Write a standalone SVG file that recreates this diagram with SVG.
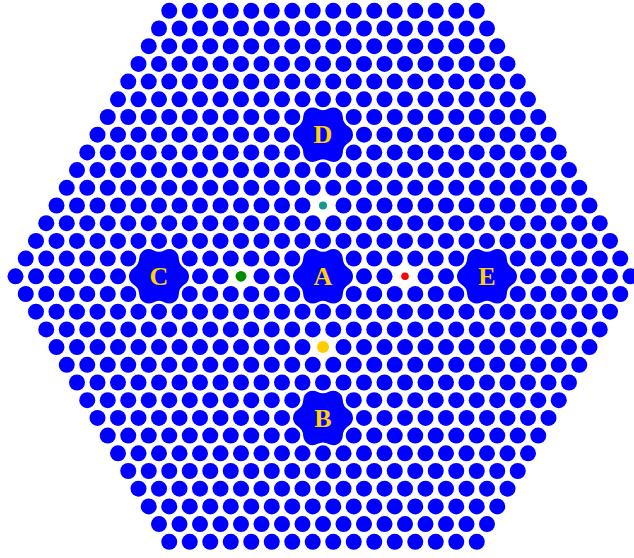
<svg xmlns="http://www.w3.org/2000/svg" xmlns:xlink="http://www.w3.org/1999/xlink" width="634" height="558" viewBox="0 0 634 558">
<style>
.c{fill:#0000ff}
.blob{fill:#0000ff;stroke:#ffffff;stroke-width:3;paint-order:stroke}
.lbl{font-family:"Liberation Serif","Times New Roman",serif;font-weight:bold;font-size:26px;fill:#ffd200;text-anchor:middle}
.hole{fill:#ffffff}
</style>
<defs>
<g id="r16">
<circle class="c" cx="0" cy="0" r="8"/><circle class="c" cx="20.5" cy="0" r="8"/><circle class="c" cx="41" cy="0" r="8"/><circle class="c" cx="61.5" cy="0" r="8"/>
<circle class="c" cx="82" cy="0" r="8"/><circle class="c" cx="102.5" cy="0" r="8"/><circle class="c" cx="123" cy="0" r="8"/><circle class="c" cx="143.5" cy="0" r="8"/>
<circle class="c" cx="164" cy="0" r="8"/><circle class="c" cx="184.5" cy="0" r="8"/><circle class="c" cx="205" cy="0" r="8"/><circle class="c" cx="225.5" cy="0" r="8"/>
<circle class="c" cx="246" cy="0" r="8"/><circle class="c" cx="266.5" cy="0" r="8"/><circle class="c" cx="287" cy="0" r="8"/><circle class="c" cx="307.5" cy="0" r="8"/>
</g>
<g id="r17"><use href="#r16"/><circle class="c" cx="328" cy="0" r="8"/></g>
<g id="r18"><use href="#r17"/><circle class="c" cx="348.5" cy="0" r="8"/></g>
<g id="r19"><use href="#r18"/><circle class="c" cx="369" cy="0" r="8"/></g>
<g id="r20"><use href="#r19"/><circle class="c" cx="389.5" cy="0" r="8"/></g>
<g id="r21"><use href="#r20"/><circle class="c" cx="410" cy="0" r="8"/></g>
<g id="r22"><use href="#r21"/><circle class="c" cx="430.5" cy="0" r="8"/></g>
<g id="r23"><use href="#r22"/><circle class="c" cx="451" cy="0" r="8"/></g>
<g id="r24"><use href="#r23"/><circle class="c" cx="471.5" cy="0" r="8"/></g>
<g id="r25"><use href="#r24"/><circle class="c" cx="492" cy="0" r="8"/></g>
<g id="r26"><use href="#r25"/><circle class="c" cx="512.5" cy="0" r="8"/></g>
<g id="r27"><use href="#r26"/><circle class="c" cx="533" cy="0" r="8"/></g>
<g id="r28"><use href="#r27"/><circle class="c" cx="553.5" cy="0" r="8"/></g>
<g id="r29"><use href="#r28"/><circle class="c" cx="574" cy="0" r="8"/></g>
<g id="r30"><use href="#r29"/><circle class="c" cx="594.5" cy="0" r="8"/></g>
<g id="r31"><use href="#r30"/><circle class="c" cx="615" cy="0" r="8"/></g>
<path id="blob" class="blob" d="M25.47,-8.1 A9.5 9.5 0 0 1 25.47,8.1 A12 12 0 0 0 19.75,18 A9.5 9.5 0 0 1 5.72,26.1 A12 12 0 0 0 -5.72,26.1 A9.5 9.5 0 0 1 -19.75,18 A12 12 0 0 0 -25.47,8.1 A9.5 9.5 0 0 1 -25.47,-8.1 A12 12 0 0 0 -19.75,-18 A9.5 9.5 0 0 1 -5.72,-26.1 A12 12 0 0 0 5.72,-26.1 A9.5 9.5 0 0 1 19.75,-18 A12 12 0 0 0 25.47,-8.1 Z"/>
</defs>
<rect width="634" height="558" fill="#ffffff"/>
<g id="lattice">
<use href="#r16" x="169.25" y="10.8"/>
<use href="#r17" x="159" y="28.5"/>
<use href="#r18" x="148.75" y="46.2"/>
<use href="#r19" x="138.5" y="63.9"/>
<use href="#r20" x="128.25" y="81.6"/>
<use href="#r21" x="118" y="99.3"/>
<use href="#r22" x="107.75" y="117"/>
<use href="#r23" x="97.5" y="134.7"/>
<use href="#r24" x="87.25" y="152.4"/>
<use href="#r25" x="77" y="170.1"/>
<use href="#r26" x="66.75" y="187.8"/>
<use href="#r27" x="56.5" y="205.5"/>
<use href="#r28" x="46.25" y="223.2"/>
<use href="#r29" x="36" y="240.9"/>
<use href="#r30" x="25.75" y="258.6"/>
<use href="#r31" x="15.5" y="276.3"/>
<use href="#r30" x="25.75" y="294"/>
<use href="#r29" x="36" y="311.7"/>
<use href="#r28" x="46.25" y="329.4"/>
<use href="#r27" x="56.5" y="347.1"/>
<use href="#r26" x="66.75" y="364.8"/>
<use href="#r25" x="77" y="382.5"/>
<use href="#r24" x="87.25" y="400.2"/>
<use href="#r23" x="97.5" y="417.9"/>
<use href="#r22" x="107.75" y="435.6"/>
<use href="#r21" x="118" y="453.3"/>
<use href="#r20" x="128.25" y="471"/>
<use href="#r19" x="138.5" y="488.7"/>
<use href="#r18" x="148.75" y="506.4"/>
<use href="#r17" x="159" y="524.1"/>
<use href="#r16" x="169.25" y="541.8"/>
</g>
<g id="node-A"><use href="#blob" x="323" y="276.3"/><text class="lbl" x="323" y="285">A</text></g>
<g id="node-B"><use href="#blob" x="323" y="417.9"/><text class="lbl" x="323" y="426.6">B</text></g>
<g id="node-C"><use href="#blob" x="159" y="276.3"/><text class="lbl" x="159" y="285">C</text></g>
<g id="node-D"><use href="#blob" x="323" y="134.7"/><text class="lbl" x="323" y="143.4">D</text></g>
<g id="node-E"><use href="#blob" x="487" y="276.3"/><text class="lbl" x="487" y="285">E</text></g>
<g id="dot-teal"><circle class="hole" cx="323" cy="205.5" r="9"/><circle cx="323" cy="205.5" r="4" fill="#12998a"/></g>
<g id="dot-green"><circle class="hole" cx="241" cy="276.3" r="9"/><circle cx="241" cy="276.3" r="5.4" fill="#008a00"/></g>
<g id="dot-red"><circle class="hole" cx="405" cy="276.3" r="9"/><circle cx="405" cy="276.3" r="3.8" fill="#ff0000"/></g>
<g id="dot-yellow"><circle class="hole" cx="323" cy="347.1" r="9"/><circle cx="323" cy="347.1" r="6" fill="#ffcc00"/></g>
<g id="connectors"></g>
</svg>
